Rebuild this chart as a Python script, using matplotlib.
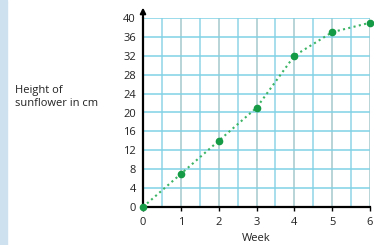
import matplotlib.pyplot as plt
import matplotlib.patches as patches
import numpy as np

weeks = [0, 1, 2, 3, 4, 5, 6]
height_cm = [0, 7, 14, 21, 32, 37, 39]
y_ticks = [0, 4, 8, 12, 16, 20, 24, 28, 32, 36, 40]

plt.rcParams['font.family'] = ['Open Sans', 'DejaVu Sans']

fig = plt.figure(figsize=(3.74, 2.45), dpi=100)
fig.patches.append(patches.Rectangle((0, 0), 7 / 374, 1, transform=fig.transFigure,
                                     color='#cde2ee', zorder=0))
ax = fig.add_axes([143 / 374, 1 - 207 / 245, 227 / 374, 189 / 245])

# grid
for gx in np.arange(0.5, 6.01, 0.5):
    c = '#8fd6e8' if gx % 1 else '#a6c9cc'
    ax.axvline(gx, color=c, lw=1.1, zorder=1)
for gy in y_ticks[1:]:
    ax.axhline(gy, color='#80d2e6', lw=1.1, zorder=1)

ax.plot(weeks, height_cm, color='#3cb464', ls=(0, (1, 1.6)), lw=1.5, zorder=3)
ax.plot(weeks, height_cm, 'o', color='#159a45', ms=4.5, zorder=4, clip_on=False)

ax.set_xlim(0, 6)
ax.set_ylim(0, 40)
ax.set_xticks(weeks)
ax.set_yticks(y_ticks)
ax.tick_params(axis='x', length=3, width=1, labelsize=8, pad=4, labelcolor='#222222')
ax.tick_params(axis='y', length=0, labelsize=8, pad=5, labelcolor='#222222')
for s in ['top', 'right']:
    ax.spines[s].set_visible(False)
ax.spines['left'].set_linewidth(1.6)
ax.spines['bottom'].set_linewidth(1.6)
ax.annotate('', xy=(0, 42.8), xytext=(0, 39.5), annotation_clip=False,
            arrowprops=dict(arrowstyle='-|>', color='black', lw=1.5, mutation_scale=8))

ax.set_xlabel('Week', fontsize=8, labelpad=4, color='#222222')
fig.text(15 / 374, 1 - 97 / 245, 'Height of\nsunflower in cm', fontsize=8,
         ha='left', va='center', linespacing=1.25, color='#222222')

fig.savefig('out.png', dpi=100)
